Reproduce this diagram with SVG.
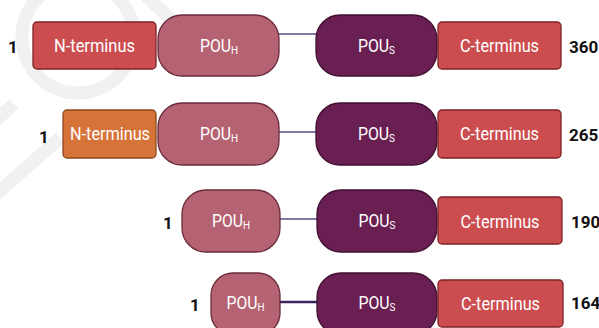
<svg xmlns="http://www.w3.org/2000/svg" width="599" height="328" viewBox="0 0 599 328">
<style>
.nt{fill:#cc4d50;stroke:#7e2228;stroke-width:1.3}
.no{fill:#d57338;stroke:#8c4a1e;stroke-width:1.3}
.ph{fill:#b56373;stroke:#6b2c3c;stroke-width:1.3}
.ps{fill:#6a1f52;stroke:#3f1031;stroke-width:1.3}
.lbl{font-family:Roboto,"Liberation Sans",sans-serif;font-size:17.5px;fill:#ffffff;text-anchor:middle}
.sub{font-size:11px}
.num{font-family:Roboto,"Liberation Sans",sans-serif;font-size:17px;font-weight:bold;fill:#111111}
.ln{stroke:#5b4a86;stroke-width:1.5;fill:none}
.wm{fill:none;stroke:#f1f1f1;stroke-width:13}
</style>
<g id="watermark">
<circle class="wm" cx="78" cy="37" r="56"/>
<line class="wm" x1="146" y1="-4" x2="180" y2="28"/>
<line class="wm" x1="-6" y1="196" x2="60" y2="138"/>
<line class="wm" x1="-6" y1="122" x2="14" y2="104"/>
</g>
<g id="connectors">
<line class="ln" x1="279" y1="34" x2="317" y2="34"/>
<line class="ln" x1="279" y1="132" x2="317" y2="132"/>
<line class="ln" x1="280" y1="219" x2="317" y2="219"/>
<line class="ln" x1="280" y1="302" x2="317" y2="302" style="stroke:#3b2460;stroke-width:2.5"/>
</g>
<g id="row1">
<text class="num" x="8" y="53">1</text>
<g id="r1-nterm"><rect class="nt" x="33" y="22" width="123" height="47" rx="4"/><text class="lbl" x="94.5" y="52" textLength="81" lengthAdjust="spacingAndGlyphs">N-terminus</text></g>
<g id="r1-pouh"><rect class="ph" x="158" y="15" width="121" height="61" rx="24"/><text class="lbl" x="219" y="52" textLength="38" lengthAdjust="spacingAndGlyphs">POU<tspan class="sub" dy="2">H</tspan></text></g>
<g id="r1-pous"><rect class="ps" x="316" y="15" width="121" height="61" rx="24"/><text class="lbl" x="376.5" y="52" textLength="37" lengthAdjust="spacingAndGlyphs">POU<tspan class="sub" dy="2">S</tspan></text></g>
<g id="r1-cterm"><rect class="nt" x="438" y="22" width="123" height="47" rx="4"/><text class="lbl" x="499.5" y="52" textLength="79" lengthAdjust="spacingAndGlyphs">C-terminus</text></g>
<text class="num" x="569" y="53">360</text>
</g>
<g id="row2">
<text class="num" x="39" y="143">1</text>
<g id="r2-nterm"><rect class="no" x="63" y="110" width="93" height="48" rx="4"/><text class="lbl" x="110" y="140" textLength="80" lengthAdjust="spacingAndGlyphs">N-terminus</text></g>
<g id="r2-pouh"><rect class="ph" x="158" y="103" width="121" height="62" rx="24"/><text class="lbl" x="219" y="140" textLength="38" lengthAdjust="spacingAndGlyphs">POU<tspan class="sub" dy="2">H</tspan></text></g>
<g id="r2-pous"><rect class="ps" x="316" y="103" width="121" height="62" rx="24"/><text class="lbl" x="376.5" y="140" textLength="37" lengthAdjust="spacingAndGlyphs">POU<tspan class="sub" dy="2">S</tspan></text></g>
<g id="r2-cterm"><rect class="nt" x="438" y="110" width="123" height="48" rx="4"/><text class="lbl" x="499.5" y="140" textLength="79" lengthAdjust="spacingAndGlyphs">C-terminus</text></g>
<text class="num" x="569" y="141">265</text>
</g>
<g id="row3">
<text class="num" x="163" y="229">1</text>
<g id="r3-pouh"><rect class="ph" x="182" y="190" width="98" height="62" rx="24"/><text class="lbl" x="231" y="227" textLength="38" lengthAdjust="spacingAndGlyphs">POU<tspan class="sub" dy="2">H</tspan></text></g>
<g id="r3-pous"><rect class="ps" x="317" y="190" width="120" height="62" rx="24"/><text class="lbl" x="377" y="227" textLength="37" lengthAdjust="spacingAndGlyphs">POU<tspan class="sub" dy="2">S</tspan></text></g>
<g id="r3-cterm"><rect class="nt" x="438" y="197" width="124" height="47" rx="4"/><text class="lbl" x="500" y="228" textLength="79" lengthAdjust="spacingAndGlyphs">C-terminus</text></g>
<text class="num" x="571" y="228">190</text>
</g>
<g id="row4">
<text class="num" x="190" y="311">1</text>
<g id="r4-pouh"><rect class="ph" x="211" y="273" width="69" height="62" rx="22"/><text class="lbl" x="245.5" y="309" textLength="38" lengthAdjust="spacingAndGlyphs">POU<tspan class="sub" dy="2">H</tspan></text></g>
<g id="r4-pous"><rect class="ps" x="317" y="273" width="120" height="62" rx="24"/><text class="lbl" x="377" y="309" textLength="37" lengthAdjust="spacingAndGlyphs">POU<tspan class="sub" dy="2">S</tspan></text></g>
<g id="r4-cterm"><rect class="nt" x="438" y="280" width="125" height="47" rx="4"/><text class="lbl" x="500.5" y="310" textLength="79" lengthAdjust="spacingAndGlyphs">C-terminus</text></g>
<text class="num" x="571" y="309">164</text>
</g>
</svg>
